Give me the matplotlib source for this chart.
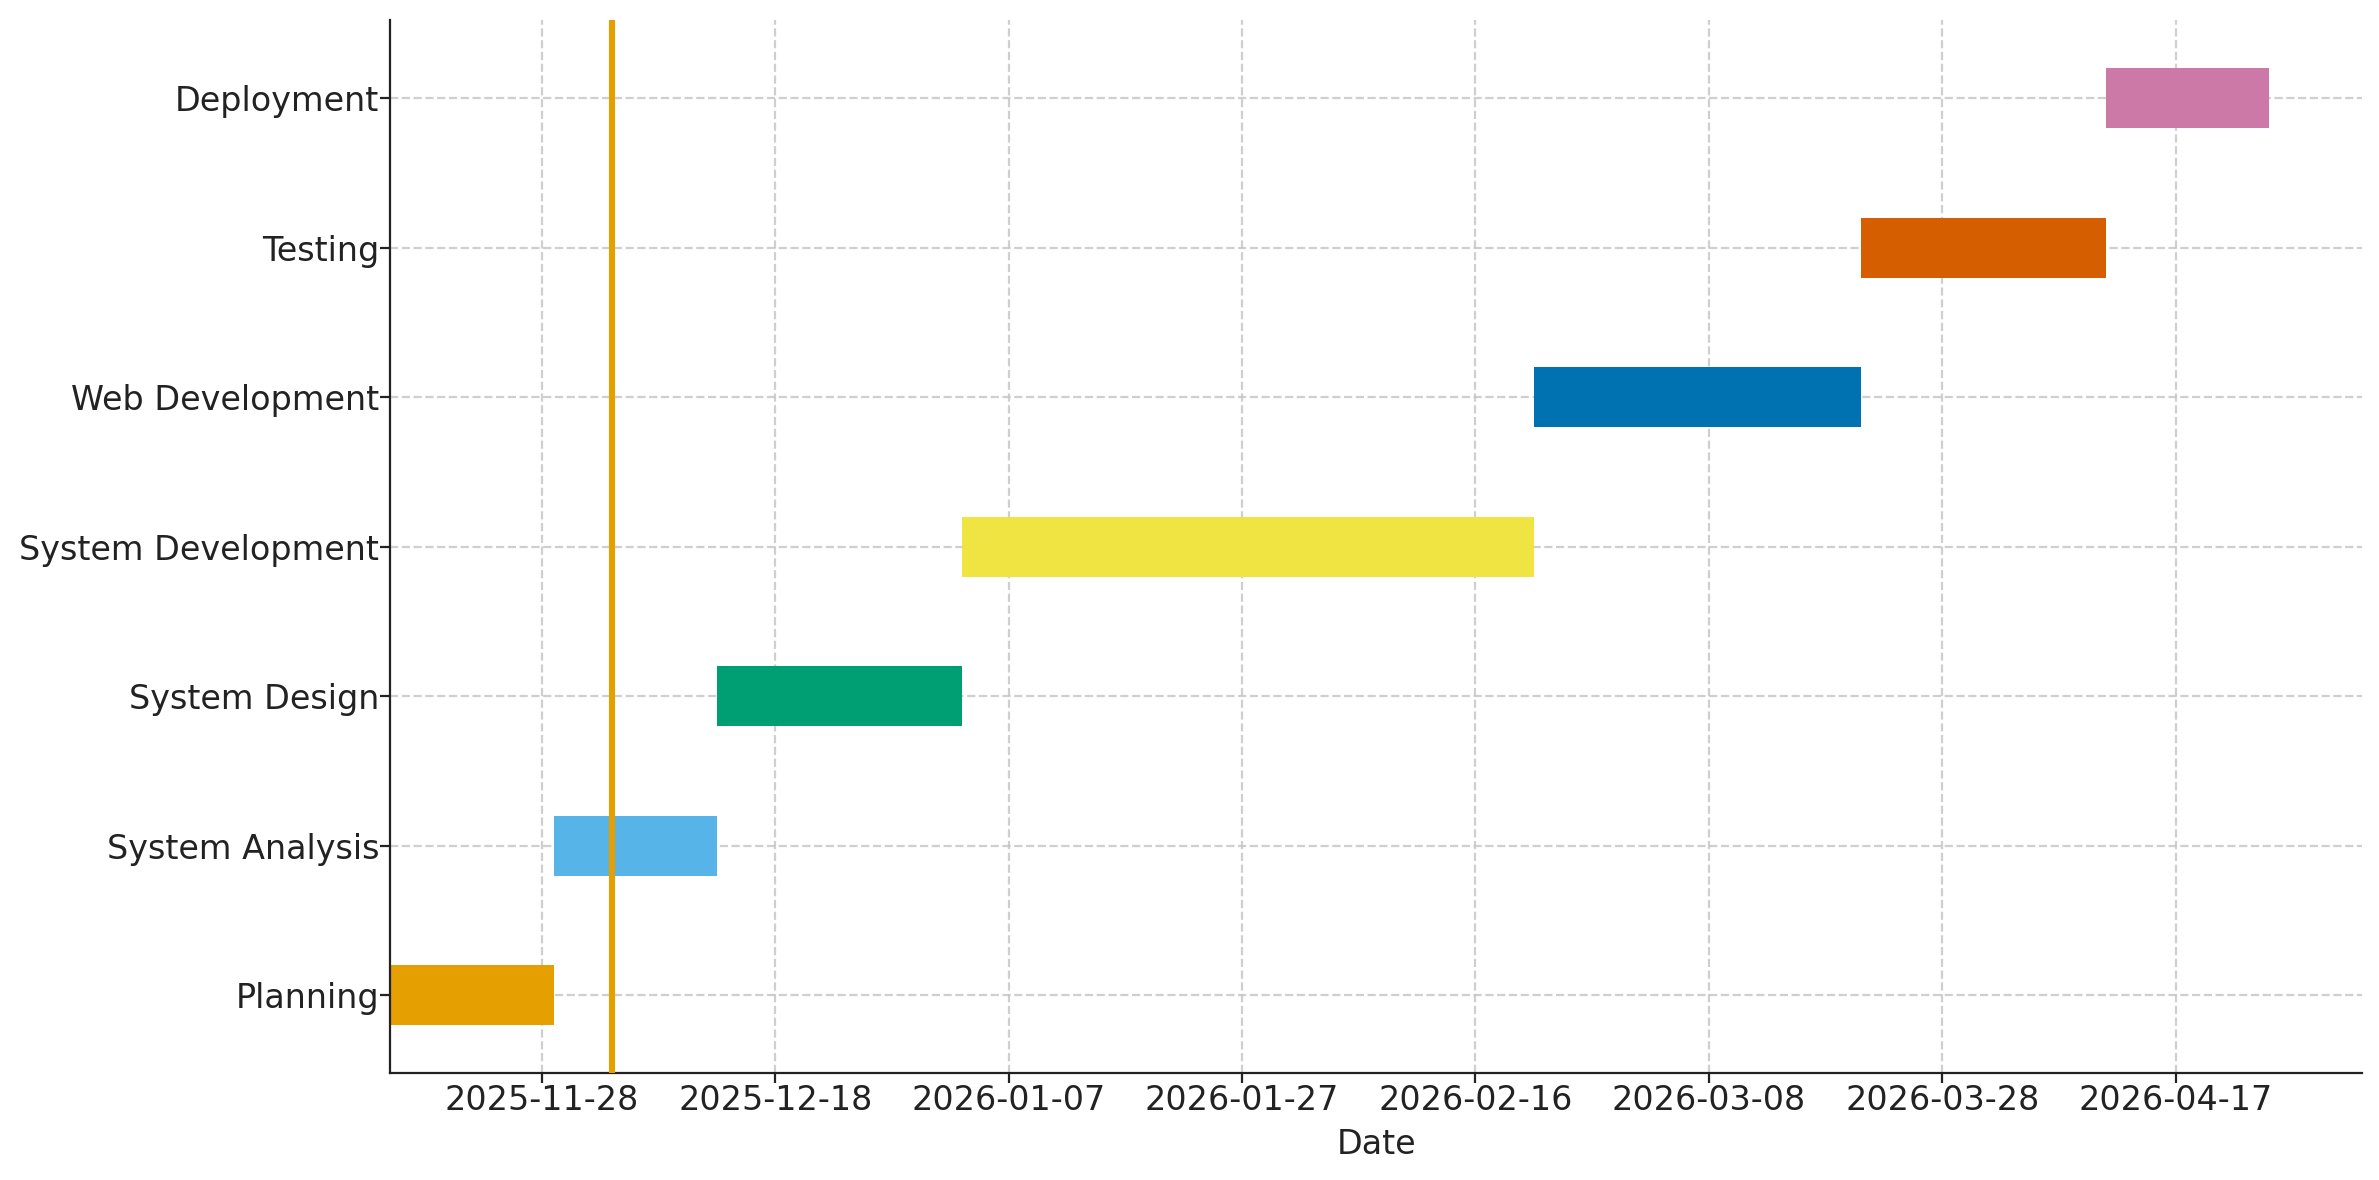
import numpy as np
import pandas as pd
import matplotlib
matplotlib.use('Agg')
import matplotlib.pyplot as plt
import matplotlib.dates as mdates

# tasks of the project
tasks = ['Planning', 'System Analysis', 'System Design', 'System Development',
         'Web Development', 'Testing', 'Deployment']
starts = ['2025-11-15', '2025-11-29', '2025-12-13', '2026-01-03',
          '2026-02-21', '2026-03-21', '2026-04-11']
ends = ['2025-11-29', '2025-12-13', '2026-01-03', '2026-02-21',
        '2026-03-21', '2026-04-11', '2026-04-25']
colors = ['#E69F00', '#56B4E9', '#009E73', '#F0E442', '#0072B2', '#D55E00', '#CC79A7']
today = '2025-12-04'
tick_dates = ['2025-11-28', '2025-12-18', '2026-01-07', '2026-01-27',
              '2026-02-16', '2026-03-08', '2026-03-28', '2026-04-17']
x_end = '2026-05-03'

s = mdates.date2num(pd.to_datetime(starts))
e = mdates.date2num(pd.to_datetime(ends))

plt.rcParams['text.color'] = '#222222'
plt.rcParams['axes.labelcolor'] = '#222222'
plt.rcParams['xtick.labelcolor'] = '#222222'
plt.rcParams['ytick.labelcolor'] = '#222222'

fig = plt.figure(figsize=(11.895, 5.9), dpi=200)
ax = fig.add_axes([0.164, 0.0907, 0.829, 0.892])

y = np.arange(len(tasks))
ax.barh(y, e - s, left=s, height=0.4, color=colors, zorder=2)
ax.axvline(mdates.date2num(pd.Timestamp(today)), color='#E69F00', linewidth=2.2, zorder=3)

ax.set_yticks(y)
ax.set_yticklabels(tasks, fontsize=12)
ax.set_xticks(mdates.date2num(pd.to_datetime(tick_dates)))
ax.xaxis.set_major_formatter(mdates.DateFormatter('%Y-%m-%d'))
ax.tick_params(axis='x', labelsize=12, pad=0.5)
ax.tick_params(axis='y', pad=0.5)
ax.set_xlim(s.min(), mdates.date2num(pd.Timestamp(x_end)))
ax.set_xlabel('Date', fontsize=12)

ax.grid(True, linestyle='--', color='#c4c4c4', alpha=0.8, linewidth=0.8, zorder=0)
ax.set_axisbelow(True)
ax.spines['right'].set_color('none')
ax.spines['top'].set_color('none')
for sp in ['left', 'bottom']:
    ax.spines[sp].set_color('#222222')
ax.tick_params(colors='#222222')

plt.savefig('out.png', dpi=200)
